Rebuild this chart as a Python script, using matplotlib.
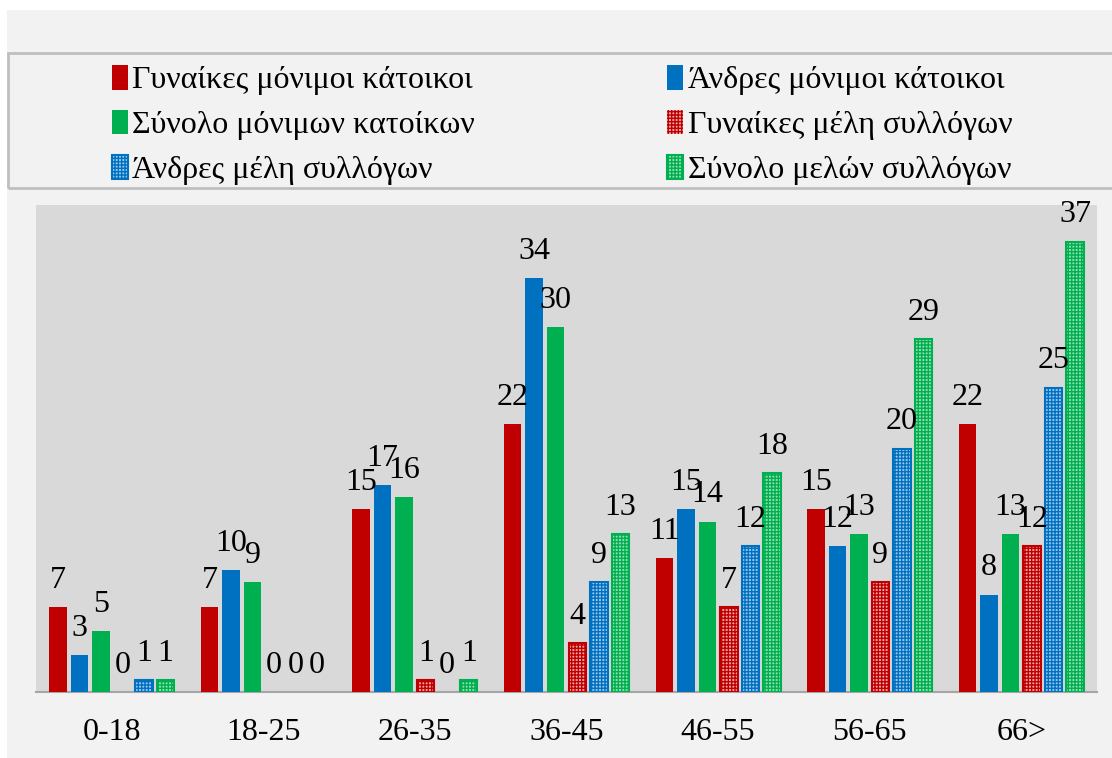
import numpy as np
import matplotlib.pyplot as plt
from matplotlib.patches import Rectangle

plt.rcParams['font.family'] = ['Liberation Serif', 'DejaVu Serif']

groups = ['0-18', '18-25', '26-35', '36-45', '46-55', '56-65', '66>']
series = ['Γυναίκες μόνιμοι κάτοικοι', 'Άνδρες μόνιμοι κάτοικοι',
          'Σύνολο μόνιμων κατοίκων', 'Γυναίκες μέλη συλλόγων',
          'Άνδρες μέλη συλλόγων', 'Σύνολο μελών συλλόγων']

women_res = [7, 7, 15, 22, 11, 15, 22]
men_res = [3, 10, 17, 34, 15, 12, 8]
total_res = [5, 9, 16, 30, 14, 13, 13]
women_club = [0, 0, 1, 4, 7, 9, 12]
men_club = [1, 0, 0, 9, 12, 20, 25]
total_club = [1, 0, 1, 13, 18, 29, 37]

values = [women_res, men_res, total_res, women_club, men_club, total_club]
colors = ['#C00000', '#0070C0', '#00B050', '#C00000', '#0070C0', '#00B050']
light = ['#F2A6A6', '#9CC6EC', '#93DDB0']
hatched = [False, False, False, True, True, True]

fig = plt.figure(figsize=(11.12, 7.58), dpi=100, facecolor='white')

# gray chart background and the legend frame
fig.patches.append(Rectangle((7 / 1112, 0), 1, 1 - 10 / 758, transform=fig.transFigure,
                             facecolor='#F2F2F2', edgecolor='none', zorder=-10))
fig.patches.append(Rectangle((8 / 1112, 1 - 188 / 758), 1.1, 135 / 758, transform=fig.transFigure,
                             facecolor='none', edgecolor='#BFBFBF', lw=2, zorder=-5))

ax = fig.add_axes([36 / 1112, 1 - 692 / 758, 1061 / 1112, 487 / 758])
ax.set_facecolor('#D9D9D9')

x = np.arange(len(groups))
pitch = 0.142
width = 0.115
handles = []
for i, (vals, col) in enumerate(zip(values, colors)):
    pos = x + (i - 2.5) * pitch
    if hatched[i]:
        # no outline on empty bars
        lws = [1.5 if v > 0 else 0 for v in vals]
        bars = ax.bar(pos, vals, width, facecolor=light[i - 3], edgecolor=col,
                      hatch='+++++', linewidth=lws, zorder=3, label=series[i])
    else:
        bars = ax.bar(pos, vals, width, color=col, zorder=3, label=series[i])
    handles.append(bars)
    for p, v in zip(pos, vals):
        ax.text(p, v + 1.0, str(v), ha='center', va='bottom', fontsize=23, zorder=4)

ax.set_xlim(-0.5, len(groups) - 0.5)
ax.set_ylim(0, 40)
ax.set_yticks([])
ax.set_xticks(x)
ax.set_xticklabels(groups, fontsize=23)
ax.tick_params(axis='x', length=0, pad=19)
for s in ['top', 'right', 'left']:
    ax.spines[s].set_visible(False)
ax.spines['bottom'].set_color('#A6A6A6')
ax.spines['bottom'].set_linewidth(1.5)

# legend is filled row by row: two entries per row
order = [0, 2, 4, 1, 3, 5]
fig.legend([handles[i] for i in order], [series[i] for i in order], ncol=2,
           loc='center', bbox_to_anchor=(562 / 1112, 1 - 125 / 758),
           frameon=False, fontsize=23, handlelength=0.5, handleheight=0.8,
           handletextpad=0.15, columnspacing=6.0, labelspacing=0.45)

fig.savefig('out.png', dpi=100, facecolor=fig.get_facecolor())
